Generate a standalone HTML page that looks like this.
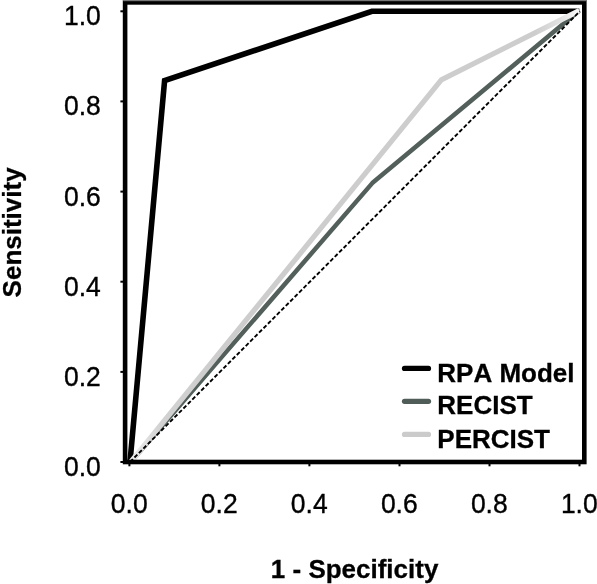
<!DOCTYPE html>
<html><head><meta charset="utf-8"><title>ROC</title>
<style>
html,body{margin:0;padding:0;background:#fff;}
svg{display:block;}
text{font-family:"Liberation Sans",Arial,Helvetica,sans-serif;fill:#000;}
.t{font-size:26.5px;stroke:#000;stroke-width:0.35px;}
.b{font-size:26px;font-weight:bold;font-kerning:none;stroke:#000;stroke-width:0.3px;}
</style></head><body>
<svg width="597" height="584" viewBox="0 0 597 584">
<defs><linearGradient id="lg" gradientUnits="userSpaceOnUse" x1="129" y1="0" x2="580" y2="0">
<stop offset="0" stop-color="#eeeeee"/><stop offset="0.07" stop-color="#d2d2d2"/><stop offset="0.2" stop-color="#cdcdcd"/><stop offset="0.9" stop-color="#cdcdcd"/><stop offset="0.96" stop-color="#e4e4e4"/><stop offset="1" stop-color="#fafafa"/>
</linearGradient><clipPath id="cp"><rect x="120" y="0" width="459.6" height="470"/></clipPath></defs>
<rect x="0" y="0" width="597" height="584" fill="#fff"/>

<polyline points="130.0,462.0 164.6,80.6 371.9,11.3 579.3,11.3" fill="none" stroke="#000" stroke-width="5.6" stroke-linejoin="miter"/>
<polyline points="130.8,462.0 372.3,183.1 579.3,10.5" fill="none" stroke="#525f5a" stroke-width="4.5" stroke-linejoin="round"/>
<polyline points="130.8,462.0 441.3,79.9 579.3,10.6" fill="none" stroke="url(#lg)" stroke-width="5.2" stroke-linejoin="round" clip-path="url(#cp)"/>
<line x1="130.0" y1="462.0" x2="579.8" y2="11.3" stroke="#000" stroke-width="1.9" stroke-dasharray="4.1 2.2"/>
<rect x="125.1" y="2.4" width="459.2" height="459.6" fill="none" stroke="#000" stroke-width="4.6"/>
<rect x="123.1" y="0" width="463.2" height="1.2" fill="#777"/>
<line x1="120.4" y1="462.0" x2="125.1" y2="462.0" stroke="#000" stroke-width="2"/>
<line x1="129.4" y1="462.0" x2="129.4" y2="466.3" stroke="#000" stroke-width="2"/>
<text class="t" transform="translate(100.8,476.0) scale(1,1.045)" text-anchor="end">0.0</text>
<text class="t" transform="translate(129.2,513.2) scale(1,1.045)" text-anchor="middle">0.0</text>
<line x1="120.4" y1="371.9" x2="125.1" y2="371.9" stroke="#000" stroke-width="2"/>
<line x1="219.4" y1="462.0" x2="219.4" y2="466.3" stroke="#000" stroke-width="2"/>
<text class="t" transform="translate(100.8,385.9) scale(1,1.045)" text-anchor="end">0.2</text>
<text class="t" transform="translate(219.2,513.2) scale(1,1.045)" text-anchor="middle">0.2</text>
<line x1="120.4" y1="281.7" x2="125.1" y2="281.7" stroke="#000" stroke-width="2"/>
<line x1="309.4" y1="462.0" x2="309.4" y2="466.3" stroke="#000" stroke-width="2"/>
<text class="t" transform="translate(100.8,295.7) scale(1,1.045)" text-anchor="end">0.4</text>
<text class="t" transform="translate(309.2,513.2) scale(1,1.045)" text-anchor="middle">0.4</text>
<line x1="120.4" y1="191.6" x2="125.1" y2="191.6" stroke="#000" stroke-width="2"/>
<line x1="399.5" y1="462.0" x2="399.5" y2="466.3" stroke="#000" stroke-width="2"/>
<text class="t" transform="translate(100.8,205.6) scale(1,1.045)" text-anchor="end">0.6</text>
<text class="t" transform="translate(399.3,513.2) scale(1,1.045)" text-anchor="middle">0.6</text>
<line x1="120.4" y1="101.4" x2="125.1" y2="101.4" stroke="#000" stroke-width="2"/>
<line x1="489.5" y1="462.0" x2="489.5" y2="466.3" stroke="#000" stroke-width="2"/>
<text class="t" transform="translate(100.8,115.4) scale(1,1.045)" text-anchor="end">0.8</text>
<text class="t" transform="translate(489.3,513.2) scale(1,1.045)" text-anchor="middle">0.8</text>
<line x1="120.4" y1="11.3" x2="125.1" y2="11.3" stroke="#000" stroke-width="2"/>
<line x1="579.5" y1="462.0" x2="579.5" y2="466.3" stroke="#000" stroke-width="2"/>
<text class="t" transform="translate(100.8,25.3) scale(1,1.045)" text-anchor="end">1.0</text>
<text class="t" transform="translate(579.3,513.2) scale(1,1.045)" text-anchor="middle">1.0</text>
<text class="b" transform="translate(354.6,577.5) scale(1,1.025)" text-anchor="middle">1 - Specificity</text>
<text class="b" transform="translate(21.1,232.4) rotate(-90) scale(1,1.025)" text-anchor="middle">Sensitivity</text>
<line x1="404.5" y1="368.4" x2="428.5" y2="368.4" stroke="#000" stroke-width="5.2" stroke-linecap="round"/>
<text class="b" transform="translate(437.3,381.5) scale(1,1)">RPA Model</text>
<line x1="404.5" y1="401.3" x2="428.5" y2="401.3" stroke="#4f5c57" stroke-width="5.2" stroke-linecap="round"/>
<text class="b" transform="translate(437.3,414.4) scale(1,1)">RECIST</text>
<line x1="404.5" y1="434.4" x2="428.5" y2="434.4" stroke="#cbcbcb" stroke-width="5.2" stroke-linecap="round"/>
<text class="b" transform="translate(437.3,447.5) scale(1,1)">PERCIST</text>
</svg>
</body></html>
